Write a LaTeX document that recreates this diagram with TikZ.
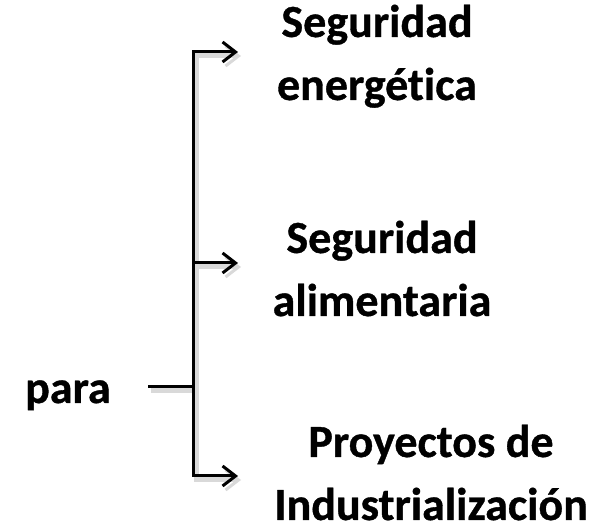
\documentclass[tikz,border=0pt]{standalone}
\usepackage{fontspec}
\setmainfont{Carlito}[Ligatures=NoCommon,BoldFeatures={FakeBold=0.8}]
\usetikzlibrary{arrows.meta, positioning}

\begin{document}
\begin{tikzpicture}[x=1pt,y=1pt,itemtext/.style={align=center,inner sep=0pt,anchor=base,font=\fontsize{46}{63}\selectfont\bfseries},edge/.style={line width=3pt,black,preaction={draw=black!15,line width=5pt,transform canvas={shift={(3pt,-4pt)}}}},branch/.style={edge,-{Straight Barb[length=13pt,width=20pt,line width=3pt]}}]
    \useasboundingbox (0,0) rectangle (602,527);

    \node[itemtext,anchor=base west] (para) at (25,124) {para};
    \node[itemtext] (energ) at (377,427) {Seguridad\\energética};
    \node[itemtext] (alim) at (382,211) {Seguridad\\alimentaria};
    \node[itemtext] (proy) at (431,7) {Proyectos de\\Industrialización};

    \coordinate (stub) at (148,140);
    \coordinate (root) at (193,140);
    \coordinate (tip1) at (238,475);
    \coordinate (tip2) at (238,264);
    \coordinate (tip3) at (238,51);

    \draw[edge] (stub) -- (root);
    \draw[branch] (root) |- (tip1);
    \draw[branch] (root |- tip2) -- (tip2);
    \draw[branch] (root) |- (tip3);
  \end{tikzpicture}
\end{document}
